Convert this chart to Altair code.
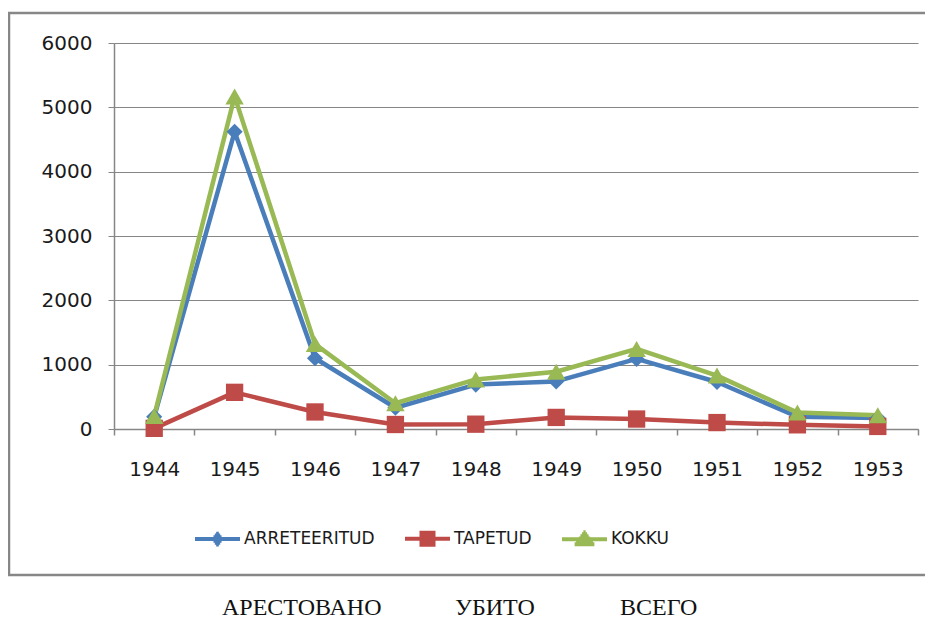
import altair as alt
import pandas as pd

# ---------------- data ----------------
years = [1944, 1945, 1946, 1947, 1948, 1949, 1950, 1951, 1952, 1953]
arreteeritud = [190, 4620, 1100, 330, 690, 740, 1090, 730, 190, 170]
tapetud = [10, 570, 265, 70, 75, 180, 155, 100, 65, 40]
kokku = [200, 5170, 1320, 400, 770, 890, 1245, 830, 255, 215]
series_names = ["ARRETEERITUD", "TAPETUD", "KOKKU"]
y_ticks = [0, 1000, 2000, 3000, 4000, 5000, 6000]
russian_labels = ["АРЕСТОВАНО", "УБИТО", "ВСЕГО"]

# ---------------- styles ----------------
colors = ["#4A7EBB", "#BE4B48", "#98B954"]
plot_shapes = ["diamond", "square", "triangle-up"]
plot_sizes = [260, 340, 400]
grey = "#868686"
font = "DejaVu Sans"


def hlines(spec):
    return "".join(f"M{-w:.3f},{y:.3f}H{w:.3f}" for y, w in spec)


legend_paths = [
    "M-1,0H1" + hlines([(-0.24, 0.06), (-0.16, 0.12), (-0.08, 0.18), (0, 0.24),
                        (0.08, 0.18), (0.16, 0.12), (0.24, 0.06)]),
    "M-1,0H1" + hlines([(-0.267, 0.356), (-0.178, 0.356), (-0.089, 0.356), (0, 0.356),
                        (0.089, 0.356), (0.178, 0.356), (0.267, 0.356)]),
    "M-1,0H1" + hlines([(-0.31, 0.05), (-0.22, 0.116), (-0.13, 0.18), (-0.04, 0.25),
                        (0.05, 0.315), (0.13, 0.374), (0.22, 0.44)]),
]

rows = []
for name, vals in zip(series_names, [arreteeritud, tapetud, kokku]):
    for yr, v in zip(years, vals):
        rows.append({"year": yr, "value": v, "series": name, "key": name})
df = pd.DataFrame(rows)

x_tick_values = [y - 0.5 for y in years] + years + [years[-1] + 0.5]

x_enc = alt.X(
    "year:Q",
    scale=alt.Scale(domain=[years[0] - 0.5, years[-1] + 0.5], nice=False, zero=False),
    axis=alt.Axis(
        values=x_tick_values,
        labelExpr="datum.value % 1 == 0 ? toString(datum.value) : ''",
        grid=False,
        domainColor=grey,
        domainWidth=1.5,
        tickColor=grey,
        tickWidth=1.5,
        tickSize=6,
        tickOpacity={"condition": {"test": "datum.value % 1 == 0", "value": 0}, "value": 1},
        labelPadding=24,
        labelFont=font,
        labelFontSize=20,
        labelColor="#1a1a1a",
        labelFlush=False,
        labelOverlap=False,
        title=None,
    ),
)
y_enc = alt.Y(
    "value:Q",
    scale=alt.Scale(domain=[0, 6000], nice=False),
    axis=alt.Axis(
        values=y_ticks,
        format="d",
        grid=True,
        gridColor=grey,
        gridWidth=1,
        domainColor=grey,
        domainWidth=1.5,
        tickColor=grey,
        tickSize=6,
        labelPadding=16,
        labelFont=font,
        labelFontSize=20,
        labelColor="#1a1a1a",
        title=None,
    ),
)

color_main = alt.Color("series:N", scale=alt.Scale(domain=series_names, range=colors), legend=None)

lines = alt.Chart(df).mark_line(strokeWidth=4.5, strokeJoin="round").encode(
    x=x_enc, y=y_enc, color=color_main
)
points = alt.Chart(df).mark_point(filled=True, opacity=1, strokeWidth=0).encode(
    x=x_enc,
    y=y_enc,
    color=color_main,
    shape=alt.Shape("series:N", scale=alt.Scale(domain=series_names, range=plot_shapes), legend=None),
    size=alt.Size("series:O", scale=alt.Scale(domain=series_names, range=plot_sizes), legend=None),
)

legend_props = dict(
    orient="none",
    legendX=79,
    legendY=471,
    direction="horizontal",
    title=None,
    symbolSize=2025,
    symbolStrokeWidth=4,
    labelFont=font,
    labelFontSize=17,
    labelColor="#1a1a1a",
    labelOffset=2,
    columnPadding=22,
    padding=0,
)
legend_layer = alt.Chart(df).transform_filter("datum.value < -1").mark_point(
    filled=False, opacity=1, strokeWidth=4
).encode(
    color=alt.Color("key:N", scale=alt.Scale(domain=series_names, range=colors),
                    legend=alt.Legend(**legend_props)),
    shape=alt.Shape("key:N", scale=alt.Scale(domain=series_names, range=legend_paths),
                    legend=alt.Legend(**legend_props)),
)

border = alt.Chart(pd.DataFrame({"a": [0]})).mark_rect(
    fillOpacity=0, stroke="#878787", strokeWidth=2.5
).encode(x=alt.value(-105), x2=alt.value(840), y=alt.value(-30), y2=alt.value(532))

text_x = [108, 341, 506]
texts = [
    alt.Chart(pd.DataFrame({"t": [lab]})).mark_text(
        font="Liberation Serif", fontSize=24, align="left", baseline="alphabetic", color="#111111"
    ).encode(x=alt.value(px), y=alt.value(572), text="t:N")
    for lab, px in zip(russian_labels, text_x)
]

chart = alt.layer(border, lines, points, legend_layer, *texts).resolve_scale(
    color="independent", shape="independent", size="independent"
).properties(
    width=804,
    height=386,
    autosize=alt.AutoSizeParams(type="none"),
    padding={"left": 106, "top": 35, "right": 7, "bottom": 190},
).configure_view(strokeWidth=0)

chart.save("out.html", embed_options={"renderer": "svg", "actions": False})
